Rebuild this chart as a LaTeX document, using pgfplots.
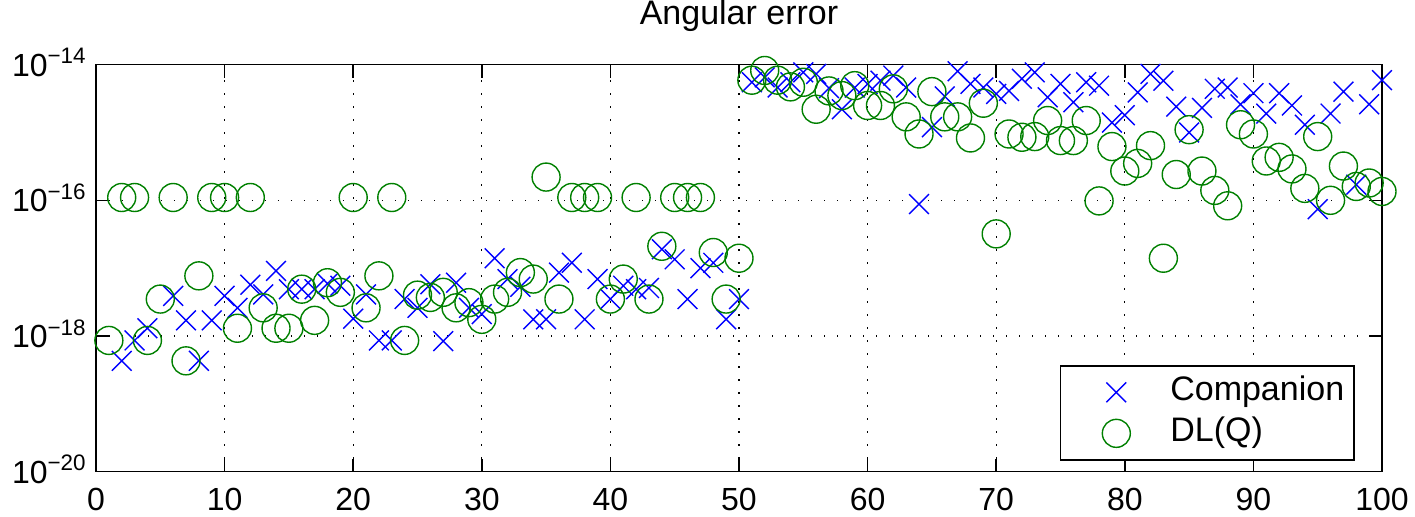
\documentclass[border=0pt]{standalone}
\usepackage{fontspec}
\setmainfont{Liberation Sans}
\usepackage{pgfplots}
\usepackage{pgfplotstable}
\pgfplotsset{compat=1.18}
\definecolor{mlBlue}{RGB}{0,0,255}
\definecolor{mlGreen}{RGB}{0,128,0}

% Companion (crosses)
\pgfplotstableread{
x y
2 4.3e-19
3 8.6e-19
4 1.3e-18
6 3.9e-18
7 1.7e-18
8 4.3e-19
9 1.7e-18
10 3.9e-18
11 2.6e-18
12 5.7e-18
13 4.1e-18
14 9.1e-18
15 4.9e-18
16 4.9e-18
17 4.9e-18
18 5.9e-18
19 5.5e-18
20 1.8e-18
21 4.1e-18
22 8.6e-19
23 8.6e-19
24 3.5e-18
25 2.6e-18
26 5.8e-18
27 8.4e-19
28 6.1e-18
29 2.6e-18
30 2.1e-18
31 1.4e-17
32 6.9e-18
33 5.3e-18
34 1.76e-18
35 1.76e-18
36 8.6e-18
37 1.2e-17
38 1.76e-18
39 6.9e-18
40 3.5e-18
41 5.5e-18
42 4.9e-18
43 5.1e-18
44 1.9e-17
45 1.35e-17
46 3.5e-18
47 1.0e-17
48 1.2e-17
49 1.76e-18
50 3.5e-18
51 5.5e-15
52 6.5e-15
53 4.6e-15
54 5.5e-15
55 7.7e-15
56 7.3e-15
57 4.5e-15
58 2.2e-15
59 4.6e-15
60 5.2e-15
61 5.8e-15
62 6.9e-15
63 4.6e-15
64 8.8e-17
65 1.2e-15
66 3.4e-15
67 8.0e-15
68 5.2e-15
69 4.6e-15
70 3.7e-15
71 4.1e-15
72 6.2e-15
73 7.7e-15
74 3.3e-15
75 5.2e-15
76 2.8e-15
77 5.5e-15
78 4.9e-15
79 1.4e-15
80 1.8e-15
81 3.9e-15
82 7.3e-15
83 5.8e-15
84 2.4e-15
85 1.0e-15
86 2.3e-15
87 4.4e-15
88 4.6e-15
89 2.6e-15
90 3.8e-15
91 1.9e-15
92 3.8e-15
93 2.5e-15
94 1.3e-15
95 7.4e-17
96 1.9e-15
97 4.0e-15
98 1.7e-16
99 2.6e-15
100 5.9e-15
}\companiondata

% DL(Q) (circles)
\pgfplotstableread{
x y
1 8.6e-19
2 1.1e-16
3 1.1e-16
4 8.6e-19
5 3.5e-18
6 1.1e-16
7 4.3e-19
8 7.7e-18
9 1.1e-16
10 1.1e-16
11 1.3e-18
12 1.1e-16
13 2.6e-18
14 1.3e-18
15 1.3e-18
16 4.9e-18
17 1.7e-18
18 6.1e-18
19 4.4e-18
20 1.1e-16
21 2.6e-18
22 7.7e-18
23 1.1e-16
24 8.6e-19
25 4.0e-18
26 3.7e-18
27 4.4e-18
28 2.6e-18
29 3.1e-18
30 1.76e-18
31 3.5e-18
32 4.4e-18
33 8.6e-18
34 6.9e-18
35 2.2e-16
36 3.5e-18
37 1.1e-16
38 1.1e-16
39 1.1e-16
40 3.5e-18
41 6.9e-18
42 1.1e-16
43 3.5e-18
44 2.1e-17
45 1.1e-16
46 1.1e-16
47 1.1e-16
48 1.7e-17
49 3.5e-18
50 1.4e-17
51 5.9e-15
52 8.2e-15
53 5.9e-15
54 4.7e-15
55 5.5e-15
56 2.2e-15
57 4.1e-15
58 3.5e-15
59 4.9e-15
60 2.5e-15
61 2.5e-15
62 4.4e-15
63 1.7e-15
64 9.5e-16
65 4.0e-15
66 1.7e-15
67 1.7e-15
68 8.3e-16
69 2.7e-15
70 3.2e-17
71 9.5e-16
72 8.5e-16
73 8.7e-16
74 1.5e-15
75 7.6e-16
76 7.6e-16
77 1.5e-15
78 9.8e-17
79 6.2e-16
80 2.7e-16
81 3.5e-16
82 6.4e-16
83 1.4e-17
84 2.4e-16
85 1.1e-15
86 2.7e-16
87 1.4e-16
88 8.3e-17
89 1.3e-15
90 9.5e-16
91 3.8e-16
92 4.3e-16
93 2.9e-16
94 1.5e-16
95 8.7e-16
96 1.0e-16
97 3.2e-16
98 1.6e-16
99 1.8e-16
100 1.35e-16
}\dlqdata

% legend: one mark in a 50pt wide slot
\pgfplotsset{
  markonlylegend/.style={
    legend image code/.code={%
      \path[draw=none,fill=none] (0pt,-1pt) rectangle (50pt,1pt);
      \draw[mark repeat=2,mark phase=2,##1] plot coordinates {(0pt,0pt) (25pt,0pt) (50pt,0pt)};}
  }
}

\begin{document}
\begin{tikzpicture}
\begin{axis}[
  name=main,
  scale only axis,
  width=643pt, height=203.5pt,
  xmin=0, xmax=100,
  ymode=log, ymin=1e-20, ymax=1e-14,
  xtick={0,10,...,100},
  ytick={1e-20,1e-18,1e-16,1e-14},
  yticklabels={10\textsuperscript{−20},10\textsuperscript{−18},10\textsuperscript{−16},10\textsuperscript{−14}},
  yminorticks=false,
  /pgf/number format/assume math mode=true,
  tick align=inside,
  major tick length=6.5pt,
  tick style={black, line width=0.8pt},
  axis line style={black, line width=0.8pt},
  grid=major,
  major grid style={black, line width=0.6pt, dash pattern=on 0.6pt off 5.9pt},
  tick label style={font=\fontsize{16}{19}\selectfont, inner sep=0pt},
  xticklabel style={anchor=north, yshift=-8pt},
  yticklabel style={anchor=base east, yshift=-5.8pt, xshift=-4.5pt},
  title={Angular error},
  title style={font=\fontsize{17}{20}\selectfont, inner sep=0pt, at={(0.5,1)}, anchor=base, yshift=14pt},
  clip=false,
  legend cell align=left,
  legend style={at={(rel axis cs:1,0)}, anchor=south east, xshift=-13.5pt, yshift=5.5pt,
    font=\fontsize{17}{20}\selectfont, draw=black, line width=0.8pt, fill=white,
    inner xsep=3pt, inner ysep=3pt,
    nodes={inner sep=2pt, text height=12.5pt, text depth=4pt}},
]
\addplot[only marks, mark=x, mark size=7pt, color=mlBlue, mark options={line width=0.7pt}, markonlylegend]
  table[x=x, y=y] {\companiondata};
\addlegendentry{Companion}
\addplot[only marks, mark=o, mark size=7pt, color=mlGreen, mark options={line width=0.7pt}, markonlylegend]
  table[x=x, y=y] {\dlqdata};
\addlegendentry{DL(Q)}
\end{axis}
\path (main.south west) ++(-48pt,-22.5pt) rectangle ++(707.5pt,258pt);
\end{tikzpicture}
\end{document}
